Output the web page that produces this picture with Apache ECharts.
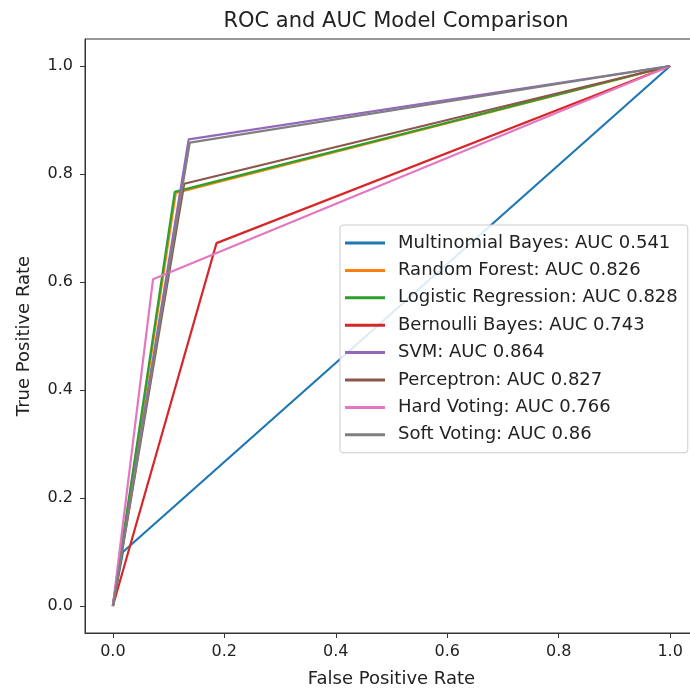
<!DOCTYPE html>
<html>
<head>
<meta charset="utf-8">
<title>ROC and AUC Model Comparison</title>
<script src="https://cdn.jsdelivr.net/npm/echarts@6/dist/echarts.min.js"></script>
<style>
    html, body { margin: 0; padding: 0; background: #fff; }
    #roc { width: 690px; height: 689px; }
</style>
</head>
<body>
<div id="roc"></div>
<script>
// model names + AUC shown in the legend
var modelNames = ['Multinomial Bayes', 'Random Forest', 'Logistic Regression', 'Bernoulli Bayes',
    'SVM', 'Perceptron', 'Hard Voting', 'Soft Voting'];
var aucValues = ['0.541', '0.826', '0.828', '0.743', '0.864', '0.827', '0.766', '0.86'];
// each ROC curve = (0,0) -> (fpr, tpr) -> (1,1), middle point
var fprValues = [0.018, 0.113, 0.111, 0.186, 0.136, 0.128, 0.072, 0.138];
var tprValues = [0.100, 0.765, 0.767, 0.672, 0.864, 0.782, 0.605, 0.858];
var tickValues = [0, 0.2, 0.4, 0.6, 0.8, 1.0];
var colorList = ['#1f77b4', '#ff7f0e', '#2ca02c', '#d62728', '#9467bd', '#8c564b', '#e377c2', '#7f7f7f'];

function getChart() {
    var myChart = echarts.init(document.getElementById('roc'));
    var font = 'DejaVu Sans';
    var series = [];
    var legendNames = [];
    for (var i = 0; i < modelNames.length; i++) {
        var label = modelNames[i] + ': AUC ' + aucValues[i];
        legendNames.push(label);
        series.push({
            name: label,
            type: 'line',
            symbol: 'none',
            animation: false,
            lineStyle: { width: 2.2, color: colorList[i] },
            itemStyle: { color: colorList[i] },
            data: [[0, 0], [fprValues[i], tprValues[i]], [1, 1]]
        });
    }
    var axisCommon = {
        type: 'value',
        min: -0.05,
        max: 1.05,
        nameLocation: 'middle',
        nameTextStyle: { fontFamily: font, fontSize: 18, color: '#222' },
        axisLine: { show: true, onZero: false, lineStyle: { color: '#333', width: 1 } },
        axisTick: { show: true, length: 5, customValues: tickValues, lineStyle: { color: '#333' } },
        axisLabel: {
            customValues: tickValues,
            fontFamily: font,
            fontSize: 16,
            color: '#222',
            formatter: function (v) { return v.toFixed(1); }
        },
        splitLine: { show: false }
    };
    var option = {
        backgroundColor: '#fff',
        color: colorList,
        title: {
            text: 'ROC and AUC Model Comparison',
            left: 391,
            top: 6,
            textAlign: 'center',
            textStyle: { fontFamily: font, fontSize: 21, fontWeight: 'normal', color: '#222' }
        },
        grid: {
            left: 85,
            top: 39,
            width: 613,
            height: 594,
            outerBoundsMode: 'none',
            show: true,
            borderColor: '#333',
            borderWidth: 1,
            backgroundColor: 'transparent'
        },
        legend: {
            orient: 'vertical',
            left: 340,
            top: 225,
            data: legendNames,
            icon: 'rect',
            itemWidth: 40,
            itemHeight: 3,
            itemGap: 9.4,
            padding: [9, 10, 9, 5],
            backgroundColor: 'rgba(255,255,255,0.85)',
            borderColor: '#ccc',
            borderWidth: 1,
            borderRadius: 3,
            selectedMode: false,
            textStyle: { fontFamily: font, fontSize: 18, color: '#222', padding: [0, 0, 0, 8] }
        },
        xAxis: Object.assign({}, axisCommon, {
            name: 'False Positive Rate',
            nameGap: 37,
            axisLabel: Object.assign({}, axisCommon.axisLabel, { margin: 11 })
        }),
        yAxis: Object.assign({}, axisCommon, {
            name: 'True Positive Rate',
            nameGap: 52,
            axisLabel: Object.assign({}, axisCommon.axisLabel, { margin: 12 })
        }),
        series: series
    };
    myChart.setOption(option);
}

getChart();
</script>
</body>
</html>
